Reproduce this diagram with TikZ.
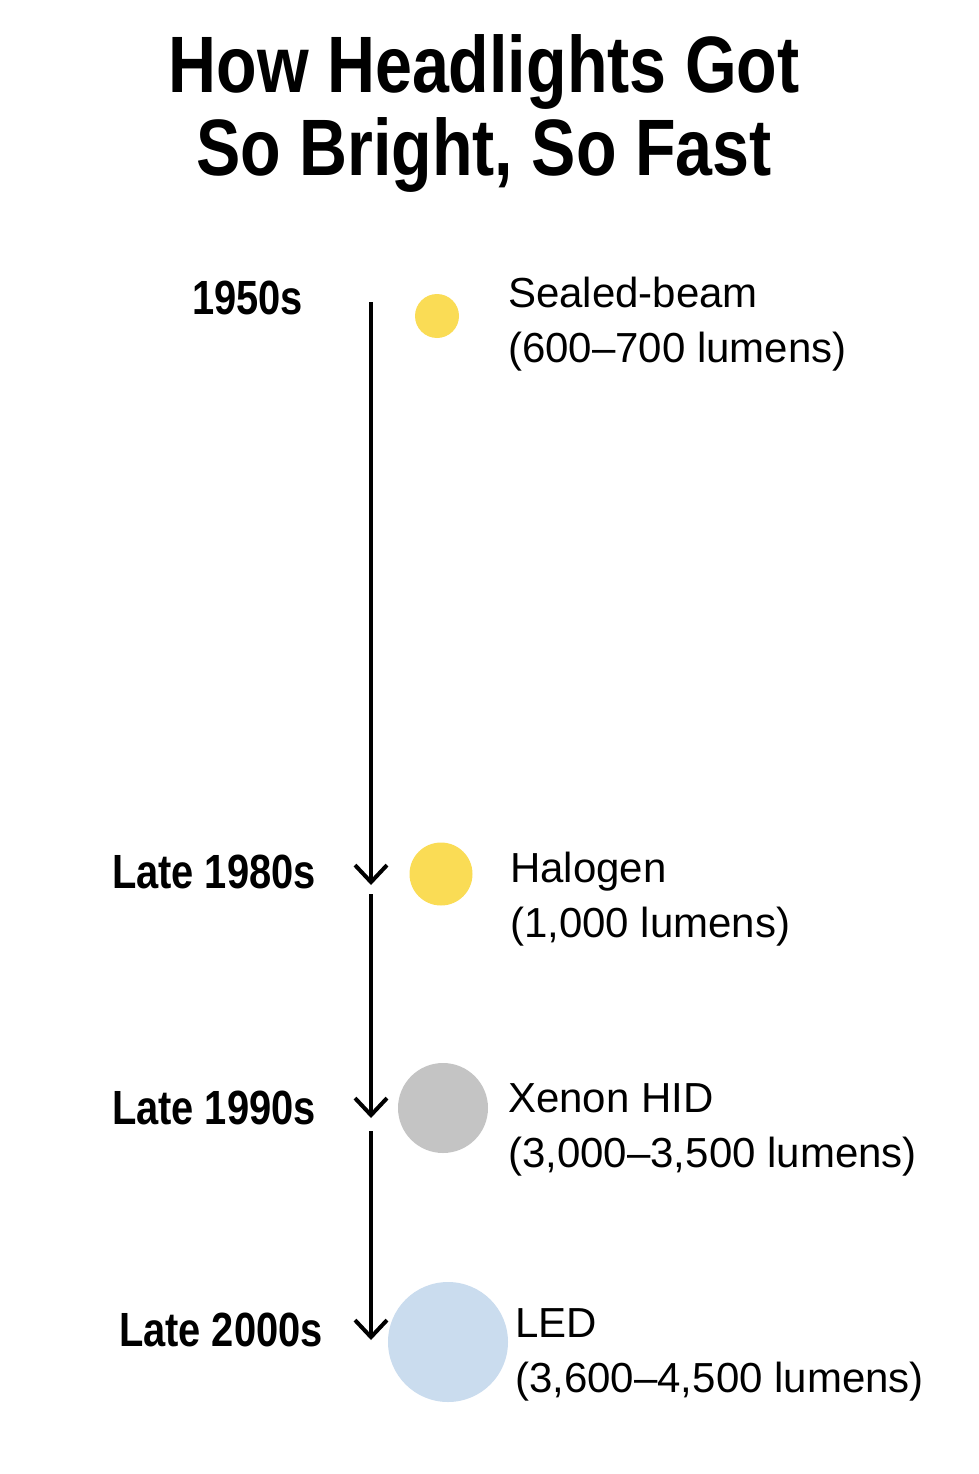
\documentclass[tikz,border=0pt]{standalone}
\usepackage{fontspec}
\setmainfont{Liberation Sans}
\newfontfamily\narrowfont[FakeStretch=0.83]{Liberation Sans}
\usepackage{xcolor}
\usepackage{tikz}
\usetikzlibrary{arrows.meta}
\definecolor{lampyellow}{HTML}{FADC55}
\definecolor{lampgray}{HTML}{C4C4C4}
\definecolor{lampblue}{HTML}{CADCEE}

\begin{document}
\begin{tikzpicture}[
    x=1pt, y=-1pt,
    bulb/.style={circle, inner sep=0pt, minimum size=#1},
    title/.style={anchor=north, inner sep=0pt, align=center,
                  font=\narrowfont\bfseries\fontsize{80}{83}\selectfont},
    year/.style={anchor=base east, inner sep=0pt,
                 font=\narrowfont\bfseries\fontsize{48}{52}\selectfont},
    desc/.style={anchor=base west, inner sep=0pt, align=left,
                 font=\fontsize{42}{55}\selectfont},
    arr/.style={-{Straight Barb[length=17pt, width=32pt]}, line width=4pt}
]
  \useasboundingbox (0,0) rectangle (978,1474);
  \node[title] (head) at (484,34) {How Headlights Got\\So Bright, So Fast};

  % timeline
  \coordinate (top) at (371,302);
  \coordinate (tip1) at (371,885);
  \coordinate (gap1) at (371,894);
  \coordinate (tip2) at (371,1118);
  \coordinate (gap2) at (371,1131);
  \coordinate (tip3) at (371,1340);

  \node[bulb=44pt, fill=lampyellow] (sealed) at (437,316) {};
  \node[bulb=63pt, fill=lampyellow] (halogen) at (441,874) {};
  \node[bulb=90pt, fill=lampgray] (xenon) at (443,1108) {};
  \node[bulb=120pt, fill=lampblue] (led) at (448,1342) {};

  \node[year] (y50) at (303,314) {1950s};
  \node[year] (y80) at (316,888) {Late 1980s};
  \node[year] (y90) at (316,1124) {Late 1990s};
  \node[year] (y00) at (323,1346) {Late 2000s};

  % base anchor sits on the last line
  \node[desc] (dsealed) at (508,362) {Sealed-beam\\(600–700 lumens)};
  \node[desc] (dhalogen) at (510,937) {Halogen\\(1,000 lumens)};
  \node[desc] (dxenon) at (508,1167) {Xenon HID\\(3,000–3,500 lumens)};
  \node[desc] (dled) at (515,1392) {LED\\(3,600–4,500 lumens)};

  \draw[arr] (top) -- (tip1);
  \draw[arr] (gap1) -- (tip2);
  \draw[arr] (gap2) -- (tip3);
\end{tikzpicture}
\end{document}
